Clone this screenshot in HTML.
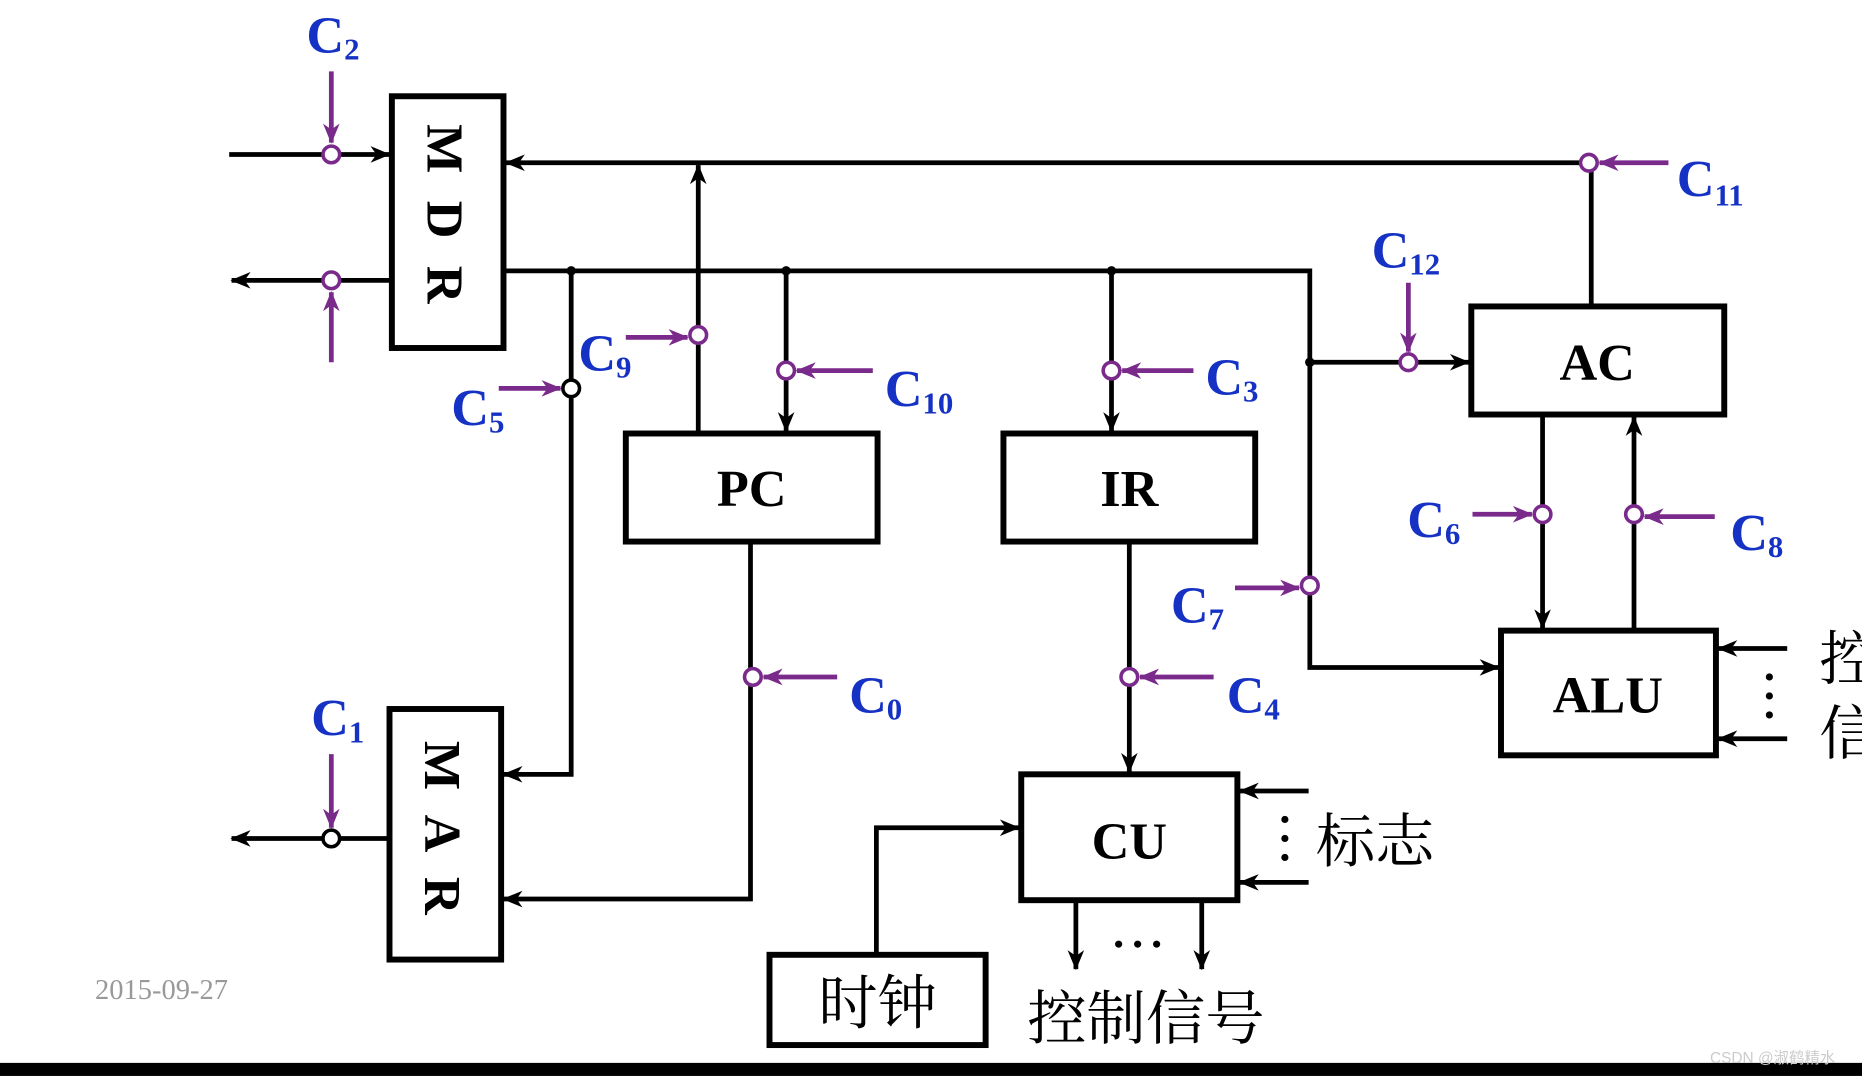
<!DOCTYPE html>
<html><head><meta charset="utf-8"><style>
html,body{margin:0;padding:0;background:#fff;overflow:hidden}
svg{display:block}
.b{font-family:"Liberation Serif",serif;font-weight:bold;font-size:44px;fill:#000}
.c{font-family:"Liberation Serif",serif;font-weight:bold;font-size:44px;fill:#1632c4}
.c tspan{font-size:26px}
.z{font-family:"Liberation Serif","Noto Serif CJK SC",serif;font-size:50px;fill:#000}
</style></head><body>
<svg width="1862" height="1076" viewBox="0 0 1568 906" xmlns="http://www.w3.org/2000/svg">
<defs>
<marker id="a" markerUnits="userSpaceOnUse" markerWidth="18" markerHeight="14" refX="16" refY="7" orient="auto"><path d="M0,0 L17,7 L0,14 L5,7 z" fill="#000"/></marker>
<marker id="p" markerUnits="userSpaceOnUse" markerWidth="18" markerHeight="14" refX="16" refY="7" orient="auto"><path d="M0,0 L17,7 L0,14 L5,7 z" fill="#7a2a8a"/></marker>
</defs>
<g fill="none" stroke="#000" stroke-width="4">
<rect x="330" y="81" width="94" height="212" stroke-width="5"/>
<rect x="328" y="597" width="94" height="211" stroke-width="5"/>
<rect x="527" y="365" width="212" height="91" stroke-width="5"/>
<rect x="845" y="365" width="212" height="91" stroke-width="5"/>
<rect x="1239" y="258" width="213" height="91" stroke-width="5"/>
<rect x="1264" y="531" width="181" height="105" stroke-width="5"/>
<rect x="860" y="652" width="182" height="106" stroke-width="5"/>
<rect x="648" y="804" width="182" height="76" stroke-width="5"/>
<path d="M193,130 H328" marker-end="url(#a)"/>
<path d="M330,236 H195" marker-end="url(#a)"/>
<path d="M1340,257 V137 H426" marker-end="url(#a)"/>
<path d="M588,364 V139" marker-end="url(#a)"/>
<path d="M424,228 H1103 V562 H1262" marker-end="url(#a)"/>
<path d="M1103,305 H1237" marker-end="url(#a)"/>
<path d="M481,228 V652 H424" marker-end="url(#a)"/>
<path d="M662,228 V363" marker-end="url(#a)"/>
<path d="M936,228 V363" marker-end="url(#a)"/>
<path d="M632,456 V757 H424" marker-end="url(#a)"/>
<path d="M951,456 V650" marker-end="url(#a)"/>
<path d="M1299,349 V529" marker-end="url(#a)"/>
<path d="M1376,530 V351" marker-end="url(#a)"/>
<path d="M1505,546 H1447" marker-end="url(#a)"/>
<path d="M1505,622 H1447" marker-end="url(#a)"/>
<path d="M1102,666 H1044" marker-end="url(#a)"/>
<path d="M1102,743 H1044" marker-end="url(#a)"/>
<path d="M906,758 V816" marker-end="url(#a)"/>
<path d="M1012,758 V816" marker-end="url(#a)"/>
<path d="M738,803 V697 H858" marker-end="url(#a)"/>
<path d="M328,706 H195" marker-end="url(#a)"/>
</g>
<g fill="#000"><circle cx="481" cy="228" r="4"/><circle cx="662" cy="228" r="4"/><circle cx="936" cy="228" r="4"/><circle cx="1103" cy="305" r="4"/></g>
<g stroke="#7a2a8a" stroke-width="4" fill="none">
<path d="M279,60 V120" marker-end="url(#p)"/>
<path d="M279,305 V246" marker-end="url(#p)"/>
<path d="M1405,137 H1347" marker-end="url(#p)"/>
<path d="M527,284 H579" marker-end="url(#p)"/>
<path d="M1186,238 V296" marker-end="url(#p)"/>
<path d="M1040,495 H1094" marker-end="url(#p)"/>
<path d="M420,327 H472" marker-end="url(#p)"/>
<path d="M735,312 H671" marker-end="url(#p)"/>
<path d="M1005,312 H945" marker-end="url(#p)"/>
<path d="M705,570 H643" marker-end="url(#p)"/>
<path d="M1022,570 H960" marker-end="url(#p)"/>
<path d="M1240,433 H1290" marker-end="url(#p)"/>
<path d="M1444,435 H1385" marker-end="url(#p)"/>
<path d="M279,635 V697" marker-end="url(#p)"/>
</g>
<g fill="#fff" stroke="#7a2a8a" stroke-width="3">
<circle cx="279" cy="130" r="7"/><circle cx="279" cy="236" r="7"/><circle cx="1338" cy="137" r="7"/>
<circle cx="588" cy="282" r="7"/><circle cx="1186" cy="305" r="7"/><circle cx="1103" cy="493" r="7"/>
<circle cx="662" cy="312" r="7"/><circle cx="936" cy="312" r="7"/><circle cx="634" cy="570" r="7"/>
<circle cx="951" cy="570" r="7"/><circle cx="1299" cy="433" r="7"/><circle cx="1376" cy="433" r="7"/>
</g>
<circle cx="481" cy="327" r="7" fill="#fff" stroke="#000" stroke-width="3"/>
<circle cx="279" cy="706" r="7" fill="#fff" stroke="#000" stroke-width="3"/>
<text class="b" transform="translate(360,183) rotate(90)" text-anchor="middle" letter-spacing="6">M D R</text>
<text class="b" transform="translate(358,700) rotate(90)" text-anchor="middle" letter-spacing="6">M A R</text>
<text class="b" x="633" y="426" text-anchor="middle">PC</text>
<text class="b" x="951" y="426" text-anchor="middle">IR</text>
<text class="b" x="1345" y="320" text-anchor="middle">AC</text>
<text class="b" x="1354" y="600" text-anchor="middle">ALU</text>
<text class="b" x="951" y="723" text-anchor="middle">CU</text>
<text class="z" x="739" y="862" text-anchor="middle">时钟</text>
<text class="z" x="865" y="875">控制信号</text>
<text class="z" x="1108" y="726" font-size="48">标志</text>
<text class="z" x="1532" y="572">控</text>
<text class="z" x="1532" y="635">信</text>
<g fill="#000"><circle cx="1082" cy="690" r="3"/><circle cx="1082" cy="706" r="3"/><circle cx="1082" cy="722" r="3"/>
<circle cx="1490" cy="570" r="3"/><circle cx="1490" cy="586" r="3"/><circle cx="1490" cy="602" r="3"/>
<circle cx="942" cy="795" r="3"/><circle cx="958" cy="795" r="3"/><circle cx="974" cy="795" r="3"/></g>
<text class="c" x="258" y="44">C<tspan dy="6">2</tspan></text>
<text class="c" x="1412" y="165">C<tspan dy="8">11</tspan></text>
<text class="c" x="1155" y="225">C<tspan dy="6">12</tspan></text>
<text class="c" x="487" y="312">C<tspan dy="6">9</tspan></text>
<text class="c" x="380" y="358">C<tspan dy="6">5</tspan></text>
<text class="c" x="745" y="342">C<tspan dy="6">10</tspan></text>
<text class="c" x="1015" y="332">C<tspan dy="6">3</tspan></text>
<text class="c" x="1185" y="452">C<tspan dy="6">6</tspan></text>
<text class="c" x="1457" y="463">C<tspan dy="6">8</tspan></text>
<text class="c" x="986" y="524">C<tspan dy="6">7</tspan></text>
<text class="c" x="715" y="600">C<tspan dy="6">0</tspan></text>
<text class="c" x="1033" y="600">C<tspan dy="6">4</tspan></text>
<text class="c" x="262" y="619">C<tspan dy="6">1</tspan></text>
<text x="80" y="841" font-family="Liberation Serif,serif" font-size="24" fill="#999">2015-09-27</text>
<rect x="0" y="895" width="1568" height="11" fill="#000"/>
<text x="1440" y="895" font-family="Liberation Sans,'Noto Sans CJK SC',sans-serif" font-size="13" fill="#ccc">CSDN @淑鹤精水</text>
</svg>
</body></html>
